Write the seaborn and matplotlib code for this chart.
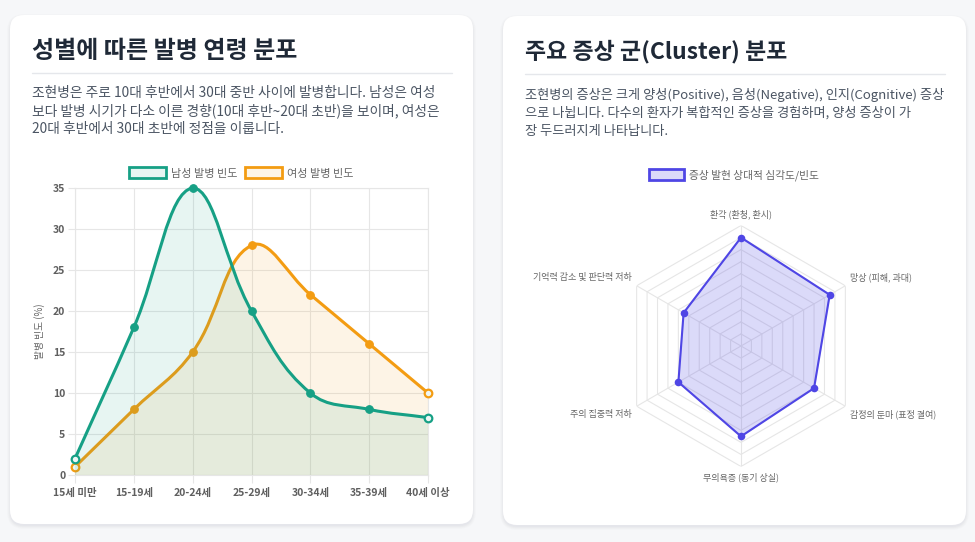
import numpy as np
import matplotlib
matplotlib.use("Agg")
import matplotlib.pyplot as plt
import seaborn as sns
from matplotlib.patches import FancyBboxPatch, Patch, PathPatch
from matplotlib.path import Path
from matplotlib.transforms import IdentityTransform

W, H = 975, 542

# ---- data ----
age_groups = ["15세 미만", "15-19세", "20-24세", "25-29세", "30-34세", "35-39세", "40세 이상"]
male_onset = [2, 18, 35, 20, 10, 8, 7]
female_onset = [1, 8, 15, 28, 22, 16, 10]
onset_yticks = [0, 5, 10, 15, 20, 25, 30, 35]

symptom_labels = ["환각 (환청, 환시)", "망상 (피해, 과대)", "감정의 둔마 (표정 결여)",
                  "무의욕증 (동기 상실)", "주의 집중력 저하", "기억력 감소 및 판단력 저하"]
symptom_scores = [90, 85, 70, 75, 60, 55]
radar_levels = [10, 20, 30, 40, 50, 60, 70, 80, 90, 100]

# ---- style ----
sns.set_theme(style="white")
plt.rcParams["font.family"] = ["Noto Sans CJK KR", "DejaVu Sans"]

TEAL = "#16a085"
ORANGE = "#f39c12"
INDIGO = "#4f46e5"
GRID = "#e6e6e6"
TICK_TXT = "#666666"
TITLE_C = "#1f2937"
BODY_C = "#4b5563"


def rgba(hex_color, a):
    r, g, b = matplotlib.colors.to_rgb(hex_color)
    return (r, g, b, a)


def fx(px):
    return px / W


def fy(py):
    return 1 - py / H


def box(x0, y0, x1, y1):
    return [fx(x0), fy(y1), (x1 - x0) / W, (y1 - y0) / H]


def spline_path(ax, xs, ys, tension=0.4):
    # chart.js style bezier control points, computed in pixel space
    pts = ax.transData.transform(np.column_stack([xs, ys]))
    n = len(pts)
    cp_prev, cp_next = pts.copy(), pts.copy()
    for i in range(n):
        prev, cur, nxt = pts[max(i - 1, 0)], pts[i], pts[min(i + 1, n - 1)]
        d01 = np.hypot(*(cur - prev))
        d12 = np.hypot(*(nxt - cur))
        tot = d01 + d12
        s01 = d01 / tot if tot else 0
        s12 = d12 / tot if tot else 0
        cp_prev[i] = cur - tension * s01 * (nxt - prev)
        cp_next[i] = cur + tension * s12 * (nxt - prev)
    bb = ax.bbox
    for cp in (cp_prev, cp_next):
        cp[:, 0] = np.clip(cp[:, 0], bb.x0, bb.x1)
        cp[:, 1] = np.clip(cp[:, 1], bb.y0, bb.y1)
    verts = [pts[0]]
    codes = [Path.MOVETO]
    for i in range(n - 1):
        verts += [cp_next[i], cp_prev[i + 1], pts[i + 1]]
        codes += [Path.CURVE4] * 3
    verts = ax.transData.inverted().transform(np.array(verts))
    return verts, codes


fig = plt.figure(figsize=(W / 100, H / 100), dpi=100, facecolor="#f6f7f9")

# ---- cards ----
for (x0, y0, x1, y1) in [(10, 15, 473, 524), (503, 16, 966, 525)]:
    for k, a in enumerate([0.02, 0.02, 0.015, 0.01]):
        sh = FancyBboxPatch((x0 - k, H - y1 - 2 - k), x1 - x0 + 2 * k, y1 - y0 + 2 * k,
                            boxstyle="round,pad=0,rounding_size=%d" % (14 + k),
                            transform=IdentityTransform(), facecolor=(0.1, 0.12, 0.2, a),
                            edgecolor="none", zorder=-3)
        fig.patches.append(sh)
    card = FancyBboxPatch((x0, H - y1), x1 - x0, y1 - y0,
                          boxstyle="round,pad=0,rounding_size=14",
                          transform=IdentityTransform(), facecolor="white",
                          edgecolor="none", zorder=-2)
    fig.patches.append(card)

# ---- headings and text ----
fig.text(fx(32), fy(51), "성별에 따른 발병 연령 분포", fontsize=17.3, fontweight="bold",
         color=TITLE_C, va="center", ha="left")
fig.text(fx(525), fy(52), "주요 증상 군(Cluster) 분포", fontsize=16.5, fontweight="bold",
         color=TITLE_C, va="center", ha="left")
fig.add_artist(plt.Line2D([fx(32), fx(452)], [fy(72.5), fy(72.5)], color="#e5e7eb", lw=1))
fig.add_artist(plt.Line2D([fx(525), fx(945)], [fy(74), fy(74)], color="#e5e7eb", lw=1))

left_body = ["조현병은 주로 10대 후반에서 30대 중반 사이에 발병합니다. 남성은 여성",
             "보다 발병 시기가 다소 이른 경향(10대 후반~20대 초반)을 보이며, 여성은",
             "20대 후반에서 30대 초반에 정점을 이룹니다."]
right_body = ["조현병의 증상은 크게 양성(Positive), 음성(Negative), 인지(Cognitive) 증상",
              "으로 나뉩니다. 다수의 환자가 복합적인 증상을 경험하며, 양성 증상이 가",
              "장 두드러지게 나타납니다."]
for i, line in enumerate(left_body):
    fig.text(fx(32), fy(93 + 18 * i), line, fontsize=9.9, color=BODY_C, va="center", ha="left")
for i, line in enumerate(right_body):
    fig.text(fx(525), fy(95 + 18.3 * i), line, fontsize=9.5, color=BODY_C, va="center", ha="left")

# ---- line chart ----
ax = fig.add_axes(box(75, 188, 428, 475))
ax.set_xlim(0, len(age_groups) - 1)
ax.set_ylim(0, 35)
xs = np.arange(len(age_groups))
inner = slice(1, len(age_groups) - 1)
ends = [0, len(age_groups) - 1]

series = [(female_onset, ORANGE, 3), (male_onset, TEAL, 5)]
for vals, col, z in series:
    vals = np.asarray(vals)
    verts, codes = spline_path(ax, xs, vals)
    fill_verts = np.vstack([verts, [[xs[-1], 0], [xs[0], 0], [xs[0], 0]]])
    fill_codes = codes + [Path.LINETO, Path.LINETO, Path.CLOSEPOLY]
    ax.add_patch(PathPatch(Path(fill_verts, fill_codes), facecolor=rgba(col, 0.1),
                           edgecolor="none", zorder=z))
    ax.add_patch(PathPatch(Path(verts, codes), facecolor="none", edgecolor=col,
                           lw=2.2, zorder=z + 0.5, clip_on=False))
    sns.scatterplot(x=xs[inner], y=vals[inner], ax=ax, s=30, color=col, edgecolor=col,
                    linewidth=0.8, zorder=z + 1, clip_on=False, legend=False)
    sns.scatterplot(x=xs[ends], y=vals[ends], ax=ax, s=30, color="#eef7f5", edgecolor=col,
                    linewidth=1.6, zorder=z + 1, clip_on=False, legend=False)

ax.set_xlim(0, len(age_groups) - 1)
ax.set_ylim(0, 35)
ax.set_xticks(xs)
ax.set_xticklabels(age_groups)
ax.set_yticks(onset_yticks)
ax.grid(True, color=GRID, lw=0.8)
ax.set_axisbelow(True)
for sp in ax.spines.values():
    sp.set_color(GRID)
    sp.set_linewidth(0.8)
ax.tick_params(axis="x", length=6, width=0.8, color=GRID, labelcolor="#5f5f5f",
               labelsize=7.5, pad=3, bottom=True)
ax.tick_params(axis="y", length=5, width=0.8, color=GRID, labelcolor="#5f5f5f",
               labelsize=7.5, pad=2, left=True)
for t in ax.get_xticklabels() + ax.get_yticklabels():
    t.set_fontweight("semibold")
ax.set_xlabel("")
ax.set_ylabel("발병 빈도 (%)", fontsize=7, color=TICK_TXT, labelpad=6)
ax.set_facecolor("none")

handles = [Patch(facecolor=rgba(TEAL, 0.1), edgecolor=TEAL, lw=2, label="남성 발병 빈도"),
           Patch(facecolor=rgba(ORANGE, 0.1), edgecolor=ORANGE, lw=2, label="여성 발병 빈도")]
fig.legend(handles=handles, loc="center", bbox_to_anchor=(fx(241), fy(173)), ncol=2,
           frameon=False, fontsize=8, labelcolor=TICK_TXT, handlelength=3.3,
           handleheight=1.1, handletextpad=0.45, columnspacing=0.7, borderpad=0)

# ---- radar chart ----
R = 120.5
pax = fig.add_axes(box(741 - R, 346 - R, 741 + R, 346 + R), projection="polar")
pax.set_theta_offset(np.pi / 2)
pax.set_theta_direction(-1)
angles = np.linspace(0, 2 * np.pi, len(symptom_labels), endpoint=False)
closed_angles = np.append(angles, angles[0])
closed_scores = np.append(symptom_scores, symptom_scores[0])

for lvl in radar_levels:
    pax.plot(closed_angles, [lvl] * len(closed_angles), color=GRID, lw=0.8, zorder=1)
for a in angles:
    pax.plot([a, a], [0, radar_levels[-1]], color=GRID, lw=0.8, zorder=1)

pax.fill(closed_angles, closed_scores, color=rgba(INDIGO, 0.2), zorder=2)
pax.plot(closed_angles, closed_scores, color=INDIGO, lw=1.5, zorder=3)
sns.scatterplot(x=angles, y=symptom_scores, ax=pax, s=30, color=INDIGO, edgecolor=INDIGO,
                linewidth=0, zorder=4, clip_on=False, legend=False)

pax.set_ylim(0, radar_levels[-1])
pax.set_xticks([])
pax.set_yticks([])
pax.grid(False)
pax.spines["polar"].set_visible(False)
pax.set_facecolor("none")
pax.set_xlabel("")
pax.set_ylabel("")

label_offsets = [((0, 11), "center"), ((5, 8), "left"), ((5, -8), "left"),
                 ((0, -11), "center"), ((-5, -8), "right"), ((-5, 8), "right")]
for a, lab, (off, ha) in zip(angles, symptom_labels, label_offsets):
    pax.annotate(lab, xy=(a, radar_levels[-1]), xytext=off, textcoords="offset pixels",
                 ha=ha, va="center", fontsize=6.5, color=TICK_TXT, annotation_clip=False)

fig.legend(handles=[Patch(facecolor=rgba(INDIGO, 0.2), edgecolor=INDIGO, lw=2,
                          label="증상 발현 상대적 심각도/빈도")],
           loc="center", bbox_to_anchor=(fx(734), fy(175)), frameon=False, fontsize=7.75,
           labelcolor=TICK_TXT, handlelength=3.3, handleheight=1.1, handletextpad=0.45,
           borderpad=0)

fig.savefig("out.png", dpi=100, facecolor=fig.get_facecolor())
